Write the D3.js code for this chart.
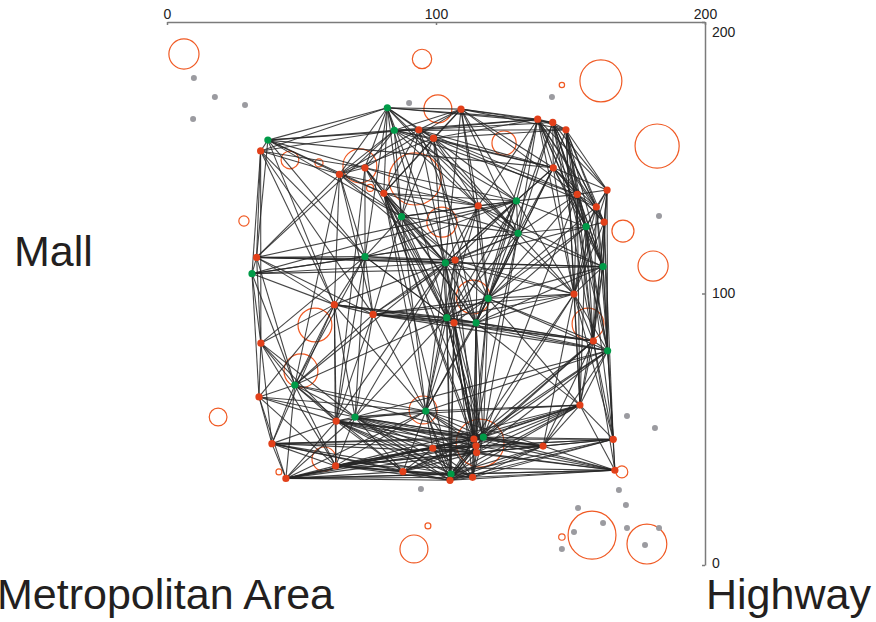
<!DOCTYPE html>
<meta charset="utf-8">
<style>
    body { margin: 0; background: #fff; }
    .axis path, .axis line { stroke: #7b7b7b; stroke-width: 1.5px; }
    .axis text { font-family: "Liberation Sans", Arial, sans-serif; font-size: 14px; fill: #222; }
    .link { stroke: #262626; stroke-width: 1.1px; stroke-opacity: 0.85; fill: none; }
    .ring { fill: none; stroke: #f05a24; stroke-width: 1.2px; }
    .label { font-family: "Liberation Sans", Arial, sans-serif; font-size: 43px; fill: #231f20; }
</style>
<script src="https://d3js.org/d3.v7.min.js"></script>

<body>
<div id="chart"></div>
<script>
// network nodes: [x, y, type]  (type g = green, r = red), ids are 1-based
var nodes = [
    [81.9, 168.4, "g"], [84.5, 160.1, "g"], [93.6, 160.3, "r"], [99.1, 157.2, "r"], [109.3, 167.9, "r"],
    [137.8, 164.2, "r"], [143.4, 163.0, "r"], [148.3, 160.3, "r"], [37.5, 156.5, "g"], [34.8, 152.5, "r"],
    [64.1, 143.9, "r"], [73.6, 146.3, "r"], [80.6, 136.9, "r"], [143.6, 146.3, "r"], [163.6, 138.1, "r"],
    [152.5, 136.5, "r"], [159.6, 131.9, "r"], [162.5, 126.3, "r"], [87.2, 128.3, "g"], [115.7, 132.3, "r"],
    [129.9, 134.1, "g"], [130.5, 122.2, "g"], [155.8, 124.6, "g"], [33.3, 113.3, "r"], [31.6, 107.3, "g"],
    [73.6, 113.6, "g"], [103.5, 111.3, "g"], [107.1, 112.3, "r"], [162.1, 109.9, "g"], [119.4, 98.2, "g"],
    [151.3, 99.8, "r"], [62.2, 95.9, "r"], [76.6, 92.3, "r"], [104.0, 91.1, "g"], [106.7, 89.2, "r"],
    [114.9, 89.2, "g"], [158.5, 82.5, "r"], [163.8, 78.9, "g"], [34.9, 81.7, "r"], [47.5, 66.3, "g"],
    [34.2, 61.9, "r"], [62.9, 53.0, "r"], [69.9, 54.5, "g"], [96.2, 56.7, "g"], [153.5, 58.9, "r"],
    [39.0, 44.7, "r"], [117.6, 47.1, "g"], [114.1, 46.4, "r"], [114.9, 43.9, "r"], [115.1, 41.4, "r"],
    [98.8, 43.0, "r"], [139.8, 43.8, "r"], [165.9, 46.3, "r"], [62.7, 36.5, "r"], [87.7, 34.4, "r"],
    [105.6, 33.5, "g"], [105.2, 31.2, "r"], [113.6, 32.3, "r"], [44.2, 31.9, "r"], [166.5, 34.9, "r"]
];

// links: for node i (1-based) the ids it is joined to
var linkTargets = [
    [2, 3, 4, 5, 6, 7, 9, 10, 11, 12, 13, 19, 20, 26, 27, 34, 22],
    [3, 4, 5, 6, 8, 9, 10, 11, 12, 14, 16, 19, 20, 21, 24],
    [4, 5, 6, 7, 9, 11, 13, 14, 16, 19, 22, 27, 30],
    [5, 6, 8, 11, 13, 14, 19, 20, 21, 22, 28, 34, 36, 17],
    [6, 7, 8, 12, 13, 14, 16, 20, 21, 22, 27, 30],
    [7, 8, 14, 15, 16, 17, 18, 20, 21, 22, 23, 29, 31, 36],
    [8, 14, 15, 16, 17, 18, 22, 23, 29, 30, 37, 38],
    [14, 15, 16, 17, 18, 23, 29, 31, 37, 38, 45],
    [10, 11, 12, 13, 14, 19, 24, 26, 32],
    [11, 12, 24, 25, 26, 32, 39, 33],
    [12, 13, 19, 20, 24, 26, 27, 32, 33, 40],
    [13, 19, 20, 21, 26, 27, 34, 42],
    [19, 20, 21, 22, 27, 28, 34, 35, 36, 44, 47, 48, 50, 56],
    [15, 16, 17, 18, 21, 22, 23, 27, 29, 30, 31, 36],
    [16, 17, 18, 23, 29, 31, 37, 38],
    [17, 18, 21, 22, 23, 29, 30, 31, 37, 45, 47],
    [18, 23, 29, 31, 37, 38, 30],
    [23, 29, 31, 37, 38, 53],
    [20, 21, 22, 26, 27, 28, 33, 34, 36, 44],
    [21, 22, 27, 28, 30, 34, 36, 31, 29],
    [22, 23, 26, 27, 28, 30, 34, 35, 36, 31, 24, 25],
    [23, 26, 27, 28, 30, 31, 34, 36, 29, 47, 48, 25],
    [29, 31, 37, 38, 30, 45, 53, 28, 36],
    [25, 26, 27, 28, 29, 32, 33, 39, 40],
    [26, 32, 39, 40, 41, 27, 29],
    [27, 28, 32, 33, 34, 35, 40, 42, 43, 39],
    [28, 30, 31, 32, 33, 34, 35, 36, 40, 42, 43, 44, 47, 48, 29],
    [30, 31, 34, 35, 36, 33, 44, 49],
    [31, 37, 38, 30, 45, 53, 36],
    [31, 33, 34, 35, 36, 37, 38, 44, 45, 47, 48, 49, 40],
    [36, 37, 38, 45, 47, 48, 52, 53, 34],
    [33, 34, 35, 39, 40, 41, 42, 43, 44, 46, 54, 36],
    [34, 35, 36, 40, 42, 43, 44, 37, 38, 31],
    [35, 36, 43, 44, 47, 48, 49, 50, 56, 57, 37],
    [36, 44, 47, 48, 49, 50, 56, 57, 58, 37, 38],
    [37, 38, 44, 47, 48, 49, 50, 58, 45],
    [38, 45, 47, 48, 52, 53, 60, 49],
    [45, 47, 48, 52, 53, 60, 50, 43, 44],
    [40, 41, 42, 43, 46, 54],
    [41, 42, 43, 44, 46, 54, 59, 55, 47],
    [42, 43, 46, 54, 59, 44],
    [43, 44, 46, 47, 48, 49, 50, 51, 52, 54, 55, 56, 57, 58, 59],
    [44, 45, 47, 48, 49, 50, 51, 52, 55, 56, 57, 58, 54, 59],
    [45, 47, 48, 49, 51, 52, 55, 56, 57, 58, 54, 59],
    [47, 48, 49, 50, 51, 52, 53, 56, 57, 60, 54],
    [47, 48, 49, 50, 54, 55, 59, 56, 57],
    [48, 49, 50, 51, 52, 53, 54, 55, 56, 57, 58, 59, 60],
    [49, 50, 51, 52, 53, 54, 55, 56, 57, 58, 59, 60],
    [50, 51, 52, 53, 54, 55, 56, 57, 58, 59, 60],
    [51, 52, 53, 54, 55, 57, 58, 59, 60],
    [52, 53, 54, 55, 56, 57, 58, 59, 60],
    [53, 54, 56, 57, 58, 60],
    [56, 57, 58, 60],
    [55, 56, 57, 58, 59, 60],
    [56, 57, 58, 59],
    [57, 58, 59, 60],
    [58, 59, 60],
    [59, 60],
    [60],
    []
];

// open circles: [x, y, radius] in axis units
var rings = [
    [6.3, 188.2, 5.6], [94.8, 186.4, 3.6], [100.7, 168.0, 5.2], [161.3, 178.3, 7.8], [146.8, 176.8, 1.0],
    [125.3, 155.4, 4.5], [182.2, 154.3, 8.2], [45.7, 149.2, 3.3], [56.5, 148.1, 1.5], [71.7, 147.0, 6.3],
    [92.2, 142.2, 9.7], [75.5, 138.9, 1.3], [28.6, 126.7, 1.9], [102.2, 126.3, 5.6], [169.5, 123.0, 4.1],
    [180.7, 110.1, 5.6], [113.8, 98.7, 6.3], [55.0, 88.4, 6.3], [156.5, 88.8, 5.9], [49.8, 71.5, 6.3],
    [95.2, 57.1, 5.2], [19.0, 54.5, 3.3], [58.4, 39.0, 4.5], [116.4, 44.9, 8.9], [41.6, 34.3, 1.1],
    [169.1, 34.3, 2.2], [97.0, 14.4, 1.1], [91.8, 5.9, 5.2], [158.0, 11.0, 8.9], [146.8, 10.3, 1.2],
    [178.4, 7.7, 7.4]
];

// grey points: [x, y]
var greyPoints = [
    [10.0, 179.4], [17.8, 172.4], [29.0, 169.4], [9.7, 164.3], [90.0, 170.2], [143.1, 172.4],
    [182.9, 128.5], [171.0, 54.9], [181.4, 50.5], [94.4, 28.0], [168.0, 27.6], [170.6, 22.1],
    [152.8, 21.0], [162.1, 15.5], [171.0, 13.6], [182.9, 13.6], [151.3, 12.2], [146.8, 5.9], [177.7, 7.4]
];

var axisTicks = [0, 100, 200];
var labels = ["Mall", "Metropolitan Area", "Highway"];

var svg = d3.select("#chart")
    .append("svg")
    .attr("width", 876)
    .attr("height", 622);

var x = d3.scaleLinear().domain([0, 200]).range([167, 705]),
    y = d3.scaleLinear().domain([0, 200]).range([565, 22]),
    r = d3.scaleLinear().domain([0, 10]).range([0, 26.9]);

var links = [];
linkTargets.forEach(function(targets, i) {
    targets.forEach(function(t) {
        links.push([nodes[i], nodes[t - 1]]);
    });
});

// axes
svg.append("g")
    .attr("class", "axis")
    .attr("transform", "translate(0," + y(200) + ")")
    .call(d3.axisTop(x).tickValues(axisTicks).tickSize(-3).tickSizeOuter(0).tickPadding(3));

var yAxisG = svg.append("g")
    .attr("class", "axis")
    .attr("transform", "translate(" + x(200) + ",0)")
    .call(d3.axisRight(y).tickValues(axisTicks).tickSize(-3).tickSizeOuter(0).tickPadding(7));

yAxisG.selectAll(".tick text")
    .attr("dy", function(d) { return d === 200 ? "1em" : d === 0 ? "0.2em" : "0.32em"; });

// open circles
svg.append("g").selectAll("circle")
    .data(rings)
    .enter().append("circle")
    .attr("class", "ring")
    .attr("cx", d => x(d[0]))
    .attr("cy", d => y(d[1]))
    .attr("r", d => r(d[2]));

// grey points
svg.append("g").selectAll("circle")
    .data(greyPoints)
    .enter().append("circle")
    .attr("cx", d => x(d[0]))
    .attr("cy", d => y(d[1]))
    .attr("r", 3)
    .attr("fill", "#9b9ba0");

// links
svg.append("g").selectAll("line")
    .data(links)
    .enter().append("line")
    .attr("class", "link")
    .attr("x1", d => x(d[0][0]))
    .attr("y1", d => y(d[0][1]))
    .attr("x2", d => x(d[1][0]))
    .attr("y2", d => y(d[1][1]));

// nodes
svg.append("g").selectAll("circle")
    .data(nodes)
    .enter().append("circle")
    .attr("cx", d => x(d[0]))
    .attr("cy", d => y(d[1]))
    .attr("r", 3.6)
    .attr("fill", d => d[2] === "g" ? "#009b48" : "#e2401a");

// corner labels
svg.append("text").attr("class", "label").attr("x", 14).attr("y", 266).text(labels[0]);
svg.append("text").attr("class", "label").attr("x", -3).attr("y", 609).text(labels[1]);
svg.append("text").attr("class", "label").attr("x", 706).attr("y", 609).text(labels[2]);
</script>
</body>
